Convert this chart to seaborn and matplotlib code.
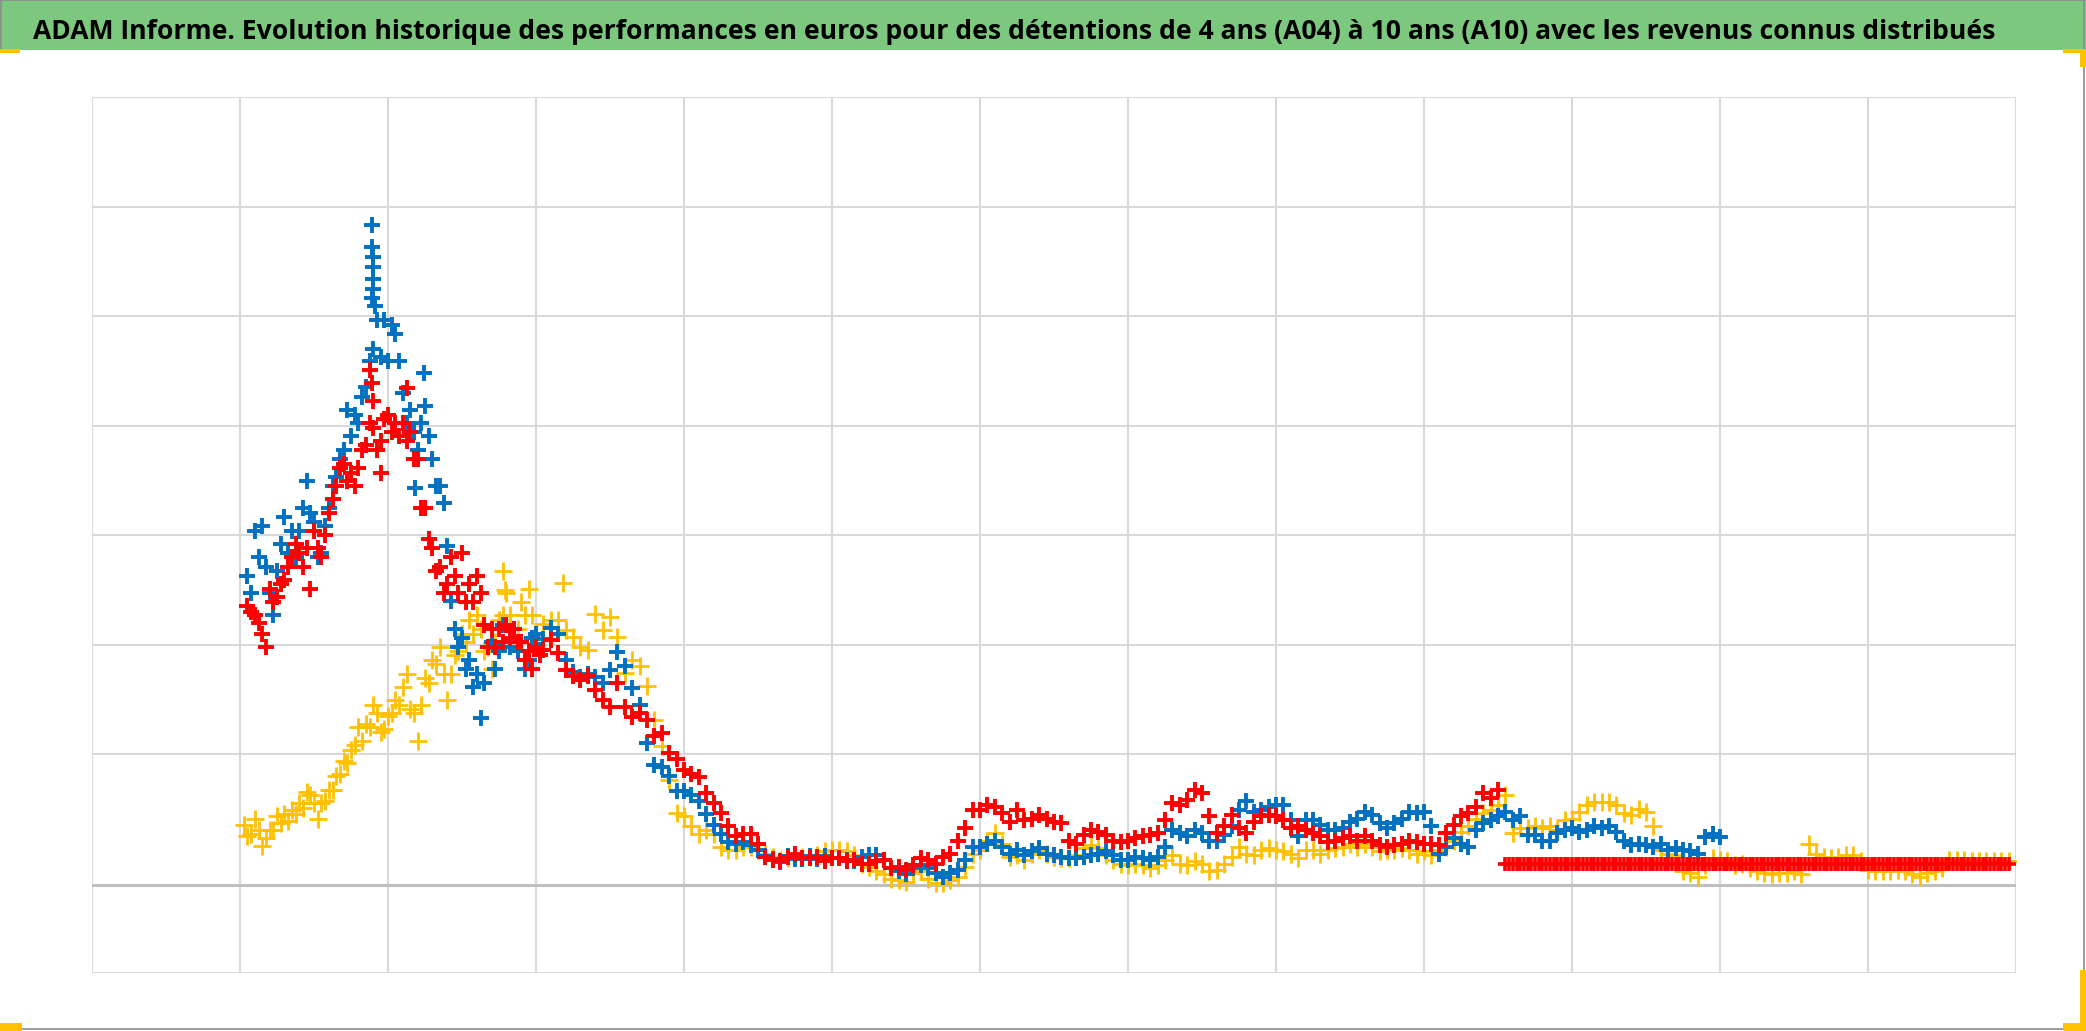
import numpy as np
import matplotlib
matplotlib.use("Agg")
import matplotlib.pyplot as plt
import seaborn as sns
from matplotlib.patches import Rectangle
from matplotlib.lines import Line2D
from matplotlib import font_manager

title = ("ADAM Informe. Evolution historique des performances en euros pour des "
         "détentions de 4 ans (A04) à 10 ans (A10) avec les revenus connus distribués")

# time axis is in years from the chart origin; early part sampled twice as dense
blue_early_start, early_step = 1.05, 0.025
blue_early = [3.63, 3.47, 4.04, 3.80, 4.08, 3.71, 3.47, 3.27, 3.67, 3.92,
              4.16, 3.84, 4.04, 3.80, 4.04, 4.25, 4.49, 4.20, 4.12, 3.80,
              3.84, 4.08, 4.25, 4.45, 4.53, 4.69, 4.78, 5.14, 4.90, 5.10,
              5.02, 5.26, 5.35, 5.59, 5.70, 5.96, 5.63, 5.96, 5.59, 5.92,
              5.84, 5.59, 5.30, 5.02, 5.14, 4.94, 4.78, 5.02, 5.18, 4.90,
              4.69, 4.45, 4.45, 4.29, 3.90, 3.40, 3.14, 2.98, 3.06, 2.78,
              2.86, 2.61, 2.73, 2.33, 2.65, 2.98, 3.02, 2.78, 2.94, 3.18,
              3.18, 2.98, 3.14, 2.94, 3.02, 2.78, 2.86, 3.06, 3.10, 2.95]
blue_extra_x = [1.89, 1.89, 1.90, 1.90, 1.90, 1.90, 1.89, 1.91, 2.24, 2.18]
blue_extra_y = [6.83, 6.63, 6.54, 6.45, 6.34, 6.25, 6.16, 6.09, 5.48, 4.43]
late_start, late_step = 3.05, 0.05
blue_late = [3.05, 3.15, 3.10, 2.86, 2.75, 2.70, 2.73, 2.70, 2.65, 2.77,
             2.93, 2.80, 2.60, 2.45, 2.10, 1.90, 1.88, 1.80, 1.66, 1.66,
             1.63, 1.57, 1.45, 1.35, 1.27, 1.20, 1.18, 1.20, 1.17, 1.12,
             1.07, 1.04, 1.01, 1.07, 1.04, 1.04, 1.07, 1.04, 1.07, 1.05,
             1.05, 1.03, 1.02, 1.06, 1.08, 1.08, 1.03, 0.96, 0.93, 0.90,
             0.96, 0.99, 0.96, 0.91, 0.88, 0.91, 0.94, 1.03, 1.15, 1.15,
             1.18, 1.21, 1.15, 1.09, 1.12, 1.08, 1.11, 1.14, 1.09, 1.08,
             1.06, 1.05, 1.05, 1.06, 1.08, 1.09, 1.11, 1.08, 1.03, 1.03,
             1.06, 1.05, 1.03, 1.06, 1.15, 1.31, 1.28, 1.25, 1.31, 1.28,
             1.21, 1.21, 1.26,
             1.34, 1.49, 1.57, 1.47, 1.49, 1.52, 1.53, 1.53, 1.40, 1.25,
             1.40, 1.40, 1.35, 1.31, 1.31, 1.32, 1.38, 1.41, 1.47, 1.44,
             1.37, 1.32, 1.37, 1.41, 1.47, 1.46, 1.47, 1.34, 1.09, 1.15,
             1.23, 1.18, 1.15, 1.31, 1.37, 1.40, 1.43, 1.47, 1.40, 1.43,
             1.26, 1.26, 1.21, 1.21, 1.28, 1.31, 1.32, 1.29, 1.31, 1.34,
             1.32, 1.34, 1.29, 1.21,
             1.17, 1.18, 1.17, 1.15, 1.18, 1.12, 1.14, 1.12, 1.11, 1.09,
             1.24, 1.27, 1.24]

red_early_start = 1.05
red_early = [3.35, 3.30, 3.27, 3.20, 3.10, 2.98, 3.51, 3.39, 3.43, 3.55,
             3.59, 3.71, 3.80, 3.92, 3.84, 3.71, 3.88, 3.51, 4.04, 3.88,
             3.80, 4.00, 4.20, 4.33, 4.45, 4.61, 4.65, 4.49, 4.57, 4.45,
             4.61, 4.78, 4.82, 5.02, 4.98, 4.78, 4.86, 5.06, 5.10, 4.94,
             5.02, 4.90, 5.02, 4.86, 4.94, 4.69, 4.69, 4.25, 4.25, 3.96,
             3.88, 3.67, 3.71, 3.47, 3.55, 3.80, 3.63, 3.47, 3.84, 3.39,
             3.55, 3.39, 3.63, 3.47, 3.18, 2.98, 3.14, 2.98, 3.14, 3.02,
             3.18, 3.06, 3.14, 3.02, 3.02, 2.86, 2.94, 2.78, 2.98, 2.90]
red_extra_x = [1.88, 1.89, 1.90, 2.13, 1.95]
red_extra_y = [5.51, 5.39, 5.22, 5.34, 4.57]
red_late = [2.95, 3.04, 2.92, 2.77, 2.71, 2.68, 2.71, 2.58, 2.49, 2.43,
            2.65, 2.43, 2.34, 2.37, 2.31, 2.16, 2.19, 2.01, 1.95, 1.85,
            1.82, 1.79, 1.64, 1.55, 1.46, 1.34, 1.25, 1.27, 1.27, 1.18,
            1.06, 1.03, 1.02, 1.06, 1.09, 1.05, 1.05, 1.06, 1.02, 1.05,
            1.05, 1.02, 1.03, 1.00, 1.00, 1.02, 1.03, 0.96, 0.97, 0.94,
            0.99, 1.05, 1.03, 1.00, 1.06, 1.09, 1.21, 1.32, 1.49, 1.49,
            1.53, 1.52, 1.46, 1.38, 1.49, 1.40, 1.41, 1.44, 1.41, 1.38,
            1.37, 1.21, 1.18, 1.26, 1.31, 1.29, 1.26, 1.21, 1.20, 1.21,
            1.23, 1.25, 1.26, 1.28, 1.40, 1.55, 1.53, 1.58, 1.67, 1.64,
            1.43, 1.28, 1.34,
            1.44, 1.32, 1.28, 1.38, 1.43, 1.44, 1.43, 1.40, 1.32, 1.34,
            1.31, 1.28, 1.25, 1.20, 1.21, 1.23, 1.25, 1.21, 1.25, 1.21,
            1.17, 1.15, 1.17, 1.18, 1.21, 1.20, 1.18, 1.18, 1.17, 1.28,
            1.35, 1.43, 1.46, 1.52, 1.64, 1.60, 1.67]
# after the last known value the A10 series stays at its reference level
red_flat_start, red_flat_end, red_flat_level = 9.55, 12.97, 1.0

yellow_early_start = 1.025
yellow_early = [1.35, 1.25, 1.27, 1.41, 1.31, 1.16, 1.23, 1.31, 1.31, 1.43,
                1.37, 1.45, 1.39, 1.49, 1.45, 1.55, 1.51, 1.65, 1.63, 1.55,
                1.41, 1.55, 1.57, 1.67, 1.67, 1.80, 1.82, 1.94, 1.92, 2.04,
                2.08, 2.25, 2.12, 2.27, 2.25, 2.45, 2.37, 2.20, 2.23, 2.35,
                2.37, 2.49, 2.45, 2.61, 2.73, 2.41, 2.37, 2.12, 2.45, 2.69,
                2.65, 2.86, 2.82, 2.98, 2.73, 2.49, 2.73, 2.90, 2.94, 3.10,
                3.02, 3.22, 3.10, 3.27, 3.14, 2.94, 2.98, 2.78, 3.02, 3.22,
                3.27, 3.47, 3.27, 3.06, 3.14, 3.39, 3.27, 3.51, 3.27, 3.06]
yellow_extra_x = [2.78, 2.79, 3.18]
yellow_extra_y = [3.67, 3.50, 3.56]
yellow_late = [3.19, 3.22, 3.22, 3.13, 3.07, 2.98, 2.95, 3.28, 3.13, 3.25,
               3.07, 2.74, 2.86, 2.80, 2.62, 2.31, 2.07, 1.76, 1.46, 1.43,
               1.34, 1.27, 1.31, 1.27, 1.15, 1.12, 1.12, 1.15, 1.15, 1.12,
               1.09, 1.06, 1.03, 1.05, 1.06, 1.06, 1.06, 1.08, 1.11, 1.12,
               1.12, 1.11, 1.08, 1.00, 0.97, 0.93, 0.90, 0.86, 0.85, 0.83,
               0.91, 0.93, 0.86, 0.82, 0.82, 0.85, 0.88, 0.97, 1.09, 1.12,
               1.21, 1.28, 1.18, 1.06, 1.08, 1.03, 1.09, 1.12, 1.09, 1.06,
               1.05, 1.05, 1.08, 1.14, 1.17, 1.14, 1.08, 1.03, 1.00, 0.99,
               1.00, 0.99, 0.96, 0.99, 1.03, 1.08, 1.00, 0.99, 1.02, 1.00,
               0.93, 0.94, 1.00,
               1.06, 1.15, 1.09, 1.08, 1.12, 1.14, 1.12, 1.11, 1.09, 1.05,
               1.12, 1.12, 1.09, 1.12, 1.14, 1.15, 1.18, 1.15, 1.18, 1.15,
               1.11, 1.12, 1.12, 1.14, 1.12, 1.09, 1.11, 1.08, 1.12, 1.15,
               1.21, 1.29, 1.34, 1.41, 1.46, 1.49, 1.53, 1.63, 1.28, 1.32,
               1.32, 1.34, 1.32, 1.34, 1.31, 1.40, 1.41, 1.47, 1.53, 1.56,
               1.56, 1.56, 1.53, 1.46,
               1.44, 1.50, 1.47, 1.34, 1.12, 1.09, 1.08, 0.93, 0.91, 0.88,
               0.99, 1.05, 1.03, 1.02, 0.99, 1.00, 0.96, 0.93, 0.91, 0.90,
               0.91, 0.91, 0.93, 0.90, 1.18, 1.09, 1.06, 1.05, 1.06, 1.08,
               1.08, 1.02, 0.94, 0.93, 0.93, 0.93, 0.94, 0.93, 0.90, 0.88,
               0.91, 0.93, 0.96, 1.03, 1.03, 1.03, 1.02, 1.02, 1.02, 1.02,
               1.02, 1.02]

BLUE, RED, YELLOW = "#0070C0", "#FF0000", "#FFC000"


def series(early_start, early, extra_x, extra_y, late):
    x = np.concatenate([early_start + early_step * np.arange(len(early)),
                        extra_x,
                        late_start + late_step * np.arange(len(late))])
    y = np.concatenate([early, extra_y, late])
    return x, y


yx, yy = series(yellow_early_start, yellow_early, yellow_extra_x, yellow_extra_y, yellow_late)
bx, by = series(blue_early_start, blue_early, blue_extra_x, blue_extra_y, blue_late)
rx, ry = series(red_early_start, red_early, red_extra_x, red_extra_y, red_late)
fx = np.arange(red_flat_start, red_flat_end, 0.025)
fy = np.full(len(fx), red_flat_level)

sns.set_style("white")
W, H = 2086, 1031
fig = plt.figure(figsize=(W / 100, H / 100), dpi=100)
ax = fig.add_axes([92 / W, 1 - 973 / H, 1924 / W, 876 / H])

sns.scatterplot(x=yx, y=yy, ax=ax, marker="+", s=150, color=YELLOW, linewidth=2.0, legend=False, zorder=3)
sns.scatterplot(x=bx, y=by, ax=ax, marker="+", s=130, color=BLUE, linewidth=2.8, legend=False, zorder=4)
sns.scatterplot(x=rx, y=ry, ax=ax, marker="+", s=130, color=RED, linewidth=2.8, legend=False, zorder=5)
sns.scatterplot(x=fx, y=fy, ax=ax, marker="+", s=90, color=RED, linewidth=2.6, legend=False, zorder=5)

ax.set_xlim(0, 13)
ax.set_ylim(0, 8)
ax.set_xticks(range(14))
ax.set_yticks([0, 2, 3, 4, 5, 6, 7, 8])
ax.tick_params(length=0, labelleft=False, labelbottom=False)
ax.grid(True, color="#d9d9d9", linewidth=1.5)
ax.set_axisbelow(True)
for s in ax.spines.values():
    s.set_visible(False)
ax.axhline(0.8, color="#bfbfbf", linewidth=2.2, zorder=2)
ax.set_xlabel("")
ax.set_ylabel("")

# title band
fig.patches.append(Rectangle((0, 1 - 50 / H), 1, 50 / H, transform=fig.transFigure,
                             facecolor="#7dc87f", edgecolor="none", zorder=0))
avail = {f.name for f in font_manager.fontManager.ttflist}
fam = next((f for f in ["Liberation Sans Narrow", "Open Sans", "Roboto", "DejaVu Sans"] if f in avail))
t = fig.text(33 / W, 1 - 39 / H, title, fontsize=22, fontweight="bold", family=fam,
             va="baseline", ha="left", color="black")
fig.canvas.draw()
w = t.get_window_extent().width
t.set_fontsize(22 * 1950 / w)

# chart frame and selection handles
grey = "#8c8c8c"
for xs_, ys_ in [((0, 1), (1, 1)), ((0, 1), (2 / H, 2 / H)), ((0.9992, 0.9992), (0, 1)),
                 ((0.0005, 0.0005), (1 - 50 / H, 1))]:
    fig.lines.append(Line2D(xs_, ys_, transform=fig.transFigure, color=grey, linewidth=1.2))
handles = [(0, 49, 20, 4), (2063, 49, 23, 4), (2080, 49, 6, 18),
           (0, 1023, 22, 8), (2063, 1023, 23, 8), (2080, 970, 6, 61)]
for hx, hy, hw, hh in handles:
    fig.patches.append(Rectangle((hx / W, 1 - (hy + hh) / H), hw / W, hh / H,
                                 transform=fig.transFigure, facecolor=YELLOW,
                                 edgecolor="none", zorder=5))

fig.savefig("out.png", dpi=100)
